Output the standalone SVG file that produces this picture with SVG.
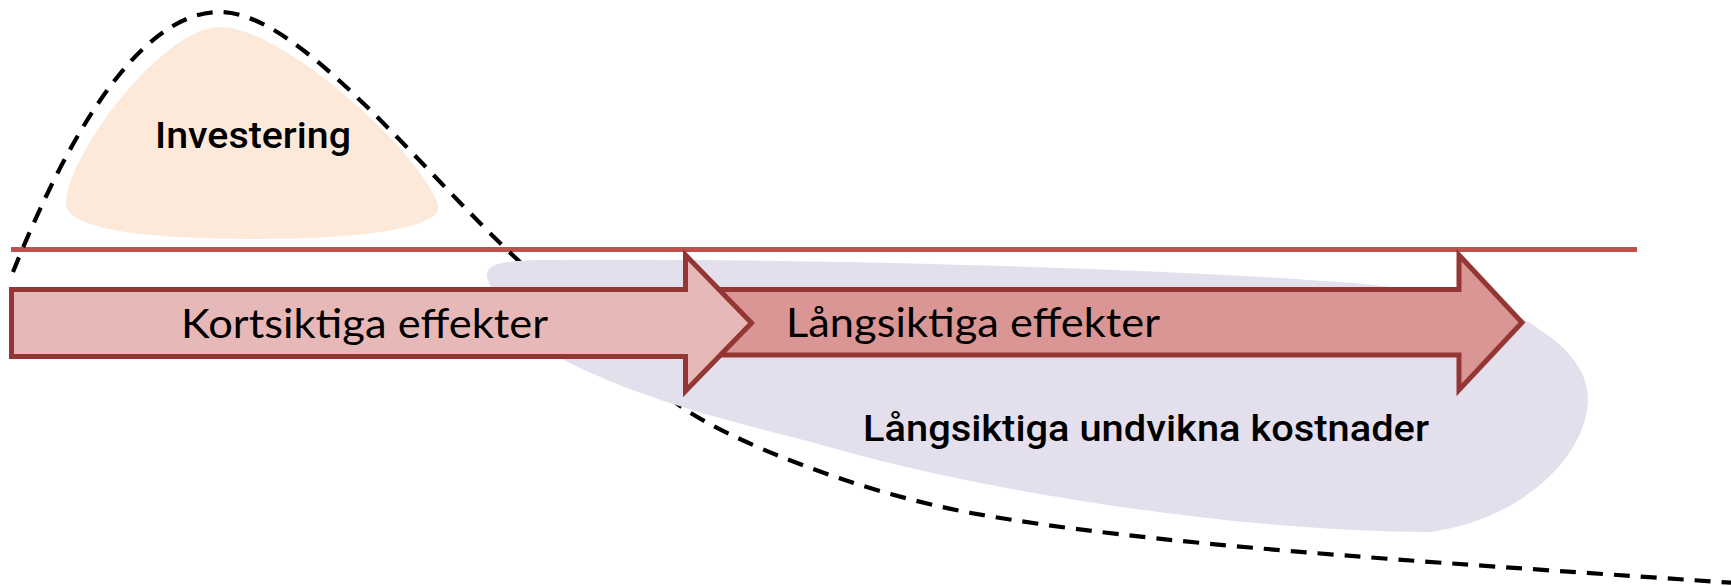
<svg xmlns="http://www.w3.org/2000/svg" width="1731" height="586" viewBox="0 0 1731 586">
  <style>
    .blob-invest { fill: #FDE9D9; }
    .blob-avoided { fill: #E4DFEC; }
    .baseline { stroke: #C0504D; stroke-width: 5; fill: none; }
    .curve { stroke: #000; stroke-width: 4.2; fill: none; stroke-dasharray: 16 11; }
    .arrow { stroke: #943634; stroke-width: 5; stroke-linejoin: miter; }
    .arrow-short { fill: #E6B9B8; }
    .arrow-long { fill: #D99694; }
    .lbl-din { font-family: Roboto, "DejaVu Sans", "Liberation Sans", sans-serif; font-weight: 500; font-size: 36px; fill: #000; }
    .lbl-arrow { font-family: Lato, "Liberation Sans", sans-serif; font-size: 41px; fill: #000; }
  </style>
  <rect width="1731" height="586" fill="#fff"/>

  <!-- investment area -->
  <g id="investering">
    <path class="blob-invest" d="M 66,205 C 64,160 160,28 220,27 C 280,26 420,150 438,205 C 445,228 360,239 260,239 C 160,239 70,232 66,205 Z"/>
    <text class="lbl-din" x="155" y="148" textLength="196" lengthAdjust="spacingAndGlyphs">Investering</text>
  </g>

  <!-- zero line and cash-flow curve -->
  <g id="connectors">
    <line class="baseline" x1="11" y1="249.5" x2="1637" y2="249.5"/>
    <path class="curve" d="M 13,272 C 62,150 135,12 220,12 C 300,12 420,170 520,262 C 570,310 630,370 683,408 C 730,440 850,490 971,513 C 1150,545 1400,560 1735,583"/>
  </g>

  <!-- avoided long-term costs -->
  <g id="undvikna-kostnader">
    <path class="blob-avoided" d="M 490,285 C 480,265 495,261 540,260 C 800,258 1150,268 1340,282 C 1450,290 1520,312 1540,330 C 1580,355 1592,385 1587,410 C 1580,460 1520,520 1430,532 C 1250,532 1000,495 840,450 C 750,425 650,405 560,358 C 520,338 495,310 490,285 Z"/>
    <text class="lbl-din" x="863" y="441" textLength="566" lengthAdjust="spacingAndGlyphs">Långsiktiga undvikna kostnader</text>
  </g>

  <!-- long-term effects arrow -->
  <g id="langsiktiga-effekter">
    <path class="arrow arrow-long" d="M 700,289.5 L 1459,289.5 L 1459,255 L 1522,322.5 L 1459,390 L 1459,355 L 700,355 Z"/>
    <text class="lbl-arrow" x="786" y="337" textLength="374" lengthAdjust="spacingAndGlyphs">Långsiktiga effekter</text>
  </g>

  <!-- short-term effects arrow -->
  <g id="kortsiktiga-effekter">
    <path class="arrow arrow-short" d="M 11.5,289.5 L 685.5,289.5 L 685.5,255 L 751.5,323 L 685.5,391 L 685.5,356.5 L 11.5,356.5 Z"/>
    <text class="lbl-arrow" x="181" y="338" textLength="367" lengthAdjust="spacingAndGlyphs">Kortsiktiga effekter</text>
  </g>
</svg>
